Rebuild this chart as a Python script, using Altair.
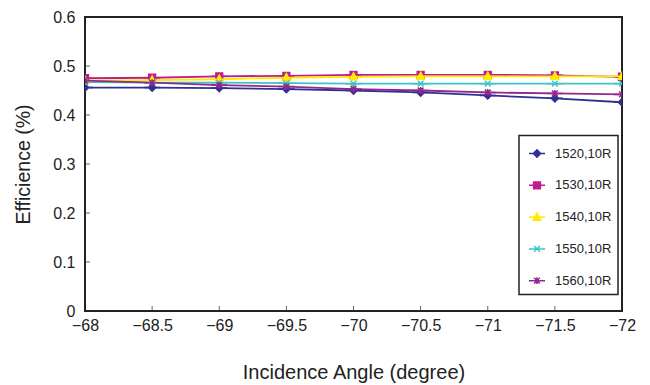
import altair as alt
import pandas as pd

angles = [-68, -68.5, -69, -69.5, -70, -70.5, -71, -71.5, -72]
series_names = ["1520,10R", "1530,10R", "1540,10R", "1550,10R", "1560,10R"]
eff_1520 = [0.456, 0.456, 0.455, 0.453, 0.450, 0.446, 0.440, 0.434, 0.426]
eff_1530 = [0.475, 0.476, 0.479, 0.480, 0.482, 0.482, 0.482, 0.481, 0.478]
eff_1540 = [0.470, 0.471, 0.473, 0.476, 0.478, 0.479, 0.479, 0.479, 0.479]
eff_1550 = [0.467, 0.466, 0.466, 0.465, 0.464, 0.464, 0.464, 0.464, 0.464]
eff_1560 = [0.470, 0.466, 0.461, 0.458, 0.453, 0.450, 0.446, 0.444, 0.442]
colors = ["#2E3192", "#BE1E8C", "#FFEB00", "#3CC4C4", "#92278F"]
shapes = [
    "M-0.73,0L0.73,0M0,-0.33L0.33,0L0,0.33L-0.33,0Z",
    "M-0.73,0L0.73,0M-0.31,-0.31L0.31,-0.31L0.31,0.31L-0.31,0.31Z",
    "M-0.73,0L0.73,0M0,-0.37L0.35,0.28L-0.35,0.28Z",
    "M-0.73,0L0.73,0M-0.26,-0.26L0.26,0.26M-0.26,0.26L0.26,-0.26",
    "M-0.73,0L0.73,0M-0.26,-0.26L0.26,0.26M-0.26,0.26L0.26,-0.26M0,-0.31L0,0.31",
]
x_ticks = angles
y_ticks = [0.1, 0.2, 0.3, 0.4, 0.5]

rows = []
for name, vals in zip(series_names, [eff_1520, eff_1530, eff_1540, eff_1550, eff_1560]):
    for a, v in zip(angles, vals):
        rows.append({"angle": a, "eff": v, "series": name})
df = pd.DataFrame(rows)

font = "Liberation Sans"
xscale = alt.Scale(domain=[-68, -72], nice=False)
yscale = alt.Scale(domain=[0, 0.6], nice=False)
cscale = alt.Scale(domain=series_names, range=colors)
leg = alt.Legend(title=None, orient="none", legendX=434, legendY=118.5, direction="vertical")

x_enc = alt.X("angle:Q", scale=xscale, title="Incidence Angle (degree)",
              axis=alt.Axis(values=x_ticks, ticks=False, domain=False, grid=False,
                            labelExpr="replace(toString(datum.value), '-', '\u2212')",
                            labelFlush=False, labelBound=False,
                            labelPadding=6, titlePadding=29, labelFontSize=16,
                            titleFontSize=20))
y_enc = alt.Y("eff:Q", scale=yscale, title="Efficience (%)",
              axis=alt.Axis(values=[0, 0.1, 0.2, 0.3, 0.4, 0.5, 0.6], ticks=False,
                            domain=False, grid=False, labelFlush=False,
                            labelExpr="datum.value == 0 ? '0' : format(datum.value, '.1f')",
                            labelPadding=10, titlePadding=19, labelFontSize=16,
                            titleFontSize=19.5))

lines = alt.Chart(df).mark_line(strokeWidth=1.8, clip=True).encode(
    x=x_enc, y=y_enc,
    color=alt.Color("series:N", scale=cscale, legend=leg),
)

points = alt.Chart(df).mark_point(filled=True, size=484, strokeWidth=1.5, opacity=1, clip=True).encode(
    x="angle:Q", y="eff:Q",
    color=alt.Color("series:N", scale=cscale, legend=leg),
    stroke=alt.Stroke("series:N", scale=alt.Scale(domain=series_names, range=colors), legend=leg),
    shape=alt.Shape("series:N", scale=alt.Scale(domain=series_names, range=shapes), legend=leg),
)

xt = alt.Chart(pd.DataFrame({"t": x_ticks})).mark_tick(
    orient="vertical", size=5, thickness=1, color="#222", yOffset=-2.5).encode(
    x=alt.X("t:Q", scale=xscale), y=alt.datum(0, scale=yscale))
yt = alt.Chart(pd.DataFrame({"t": y_ticks})).mark_tick(
    orient="horizontal", size=5, thickness=1, color="#222", xOffset=2.5).encode(
    y=alt.Y("t:Q", scale=yscale), x=alt.datum(-68, scale=xscale))

chart = alt.layer(lines, points, xt, yt).properties(
    width=537, height=294,
    autosize=alt.AutoSizeParams(type="none"),
    padding={"left": 85, "top": 17, "right": 28, "bottom": 74},
).configure_view(
    stroke="#222", strokeWidth=2
).configure_axis(
    labelFont=font, titleFont=font, labelColor="#222", titleColor="#222",
    titleFontWeight="normal"
).configure_legend(
    strokeColor="#222", strokeWidth=1.5, fillColor="white", padding=6,
    rowPadding=12.8, symbolSize=484, symbolStrokeWidth=1.5, labelFontSize=13,
    labelFont=font, labelColor="#222", labelOffset=6, cornerRadius=0
)

chart.save("out.html", embed_options={"renderer": "svg", "actions": False})
